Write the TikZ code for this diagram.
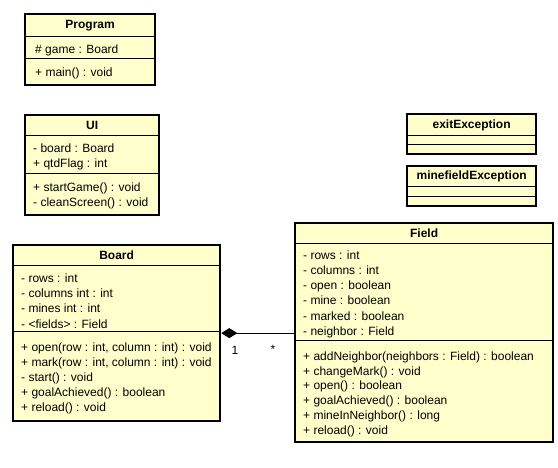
\documentclass[tikz,border=0pt]{standalone}
\usepackage{fontspec}
\setmainfont{Liberation Sans}
\usepackage{tikz}
\usetikzlibrary{arrows.meta}

\definecolor{classfill}{HTML}{FFFFCC}
\tikzset{
  classbox/.style={draw=black,line width=2.3pt,fill=classfill,anchor=north west,inner sep=0pt},
  sepline/.style={line width=1pt},
  classname/.style={font=\fontsize{12}{14}\selectfont\bfseries,inner sep=0pt},
  member/.style={font=\fontsize{12}{14}\selectfont,anchor=west,inner sep=0pt,text height=8.5pt,text depth=0pt},
  composition/.style={line width=1pt,{Diamond[length=16pt,width=10pt]}-},
  mult/.style={font=\fontsize{12}{14}\selectfont,inner sep=0pt}
}

\begin{document}
\begin{tikzpicture}[x=1pt,y=-1pt]
  \useasboundingbox (0,0) rectangle (558,468);

  % Program
  \node[classbox,minimum width=130pt,minimum height=71pt] (program) at (24,13) {};
  \draw[sepline] (program.west |- 0,37) -- (program.east |- 0,37);
  \draw[sepline] (program.west |- 0,59) -- (program.east |- 0,59);
  \node[classname] (programname) at (program.center |- 0,25.5) {Program};
  \node[member] (programattr) at (35,49) {\# game : Board};
  \node[member] (programop) at (35,72) {+ main() : void};

  % UI
  \node[classbox,minimum width=134pt,minimum height=100pt] (ui) at (24,114) {};
  \draw[sepline] (ui.west |- 0,136) -- (ui.east |- 0,136);
  \draw[sepline] (ui.west |- 0,174) -- (ui.east |- 0,174);
  \node[classname] (uiname) at (ui.center |- 0,125.5) {UI};
  \foreach \t [count=\i from 0] in {- board : Board,+ qtdFlag : int}
    \node[member] at (33,{148+15.5*\i}) {\t};
  \foreach \t [count=\i from 0] in {+ startGame() : void,- cleanScreen() : void}
    \node[member] at (33,{187+15*\i}) {\t};

  % exceptions
  \node[classbox,minimum width=129pt,minimum height=40pt] (exitexc) at (406,113) {};
  \draw[sepline] (exitexc.west |- 0,136) -- (exitexc.east |- 0,136);
  \draw[sepline] (exitexc.west |- 0,145) -- (exitexc.east |- 0,145);
  \node[classname] (exitname) at (exitexc.center |- 0,125) {exitException};

  \node[classbox,minimum width=129pt,minimum height=40pt] (mineexc) at (406,165) {};
  \draw[sepline] (mineexc.west |- 0,187) -- (mineexc.east |- 0,187);
  \draw[sepline] (mineexc.west |- 0,197) -- (mineexc.east |- 0,197);
  \node[classname] (minename) at (mineexc.center |- 0,176.5) {minefieldException};

  % Board
  \node[classbox,minimum width=207pt,minimum height=176pt] (board) at (12,244) {};
  \draw[sepline] (board.west |- 0,266) -- (board.east |- 0,266);
  \draw[sepline] (board.west |- 0,332) -- (board.east |- 0,332);
  \node[classname] (boardname) at (board.center |- 0,255.5) {Board};
  \foreach \t [count=\i from 0] in {- rows : int,- columns int : int,- mines int : int,- <fields> : Field}
    \node[member] at (21,{278+15.3*\i}) {\t};
  \foreach \t [count=\i from 0] in {{+ open(row : int, column : int) : void},{+ mark(row : int, column : int) : void},- start() : void,+ goalAchieved() : boolean,+ reload() : void}
    \node[member] at (21,{347+15*\i}) {\t};

  % Field
  \node[classbox,minimum width=258pt,minimum height=219pt] (field) at (294,222) {};
  \draw[sepline] (field.west |- 0,244) -- (field.east |- 0,244);
  \draw[sepline] (field.west |- 0,341) -- (field.east |- 0,341);
  \node[classname] (fieldname) at (field.center |- 0,233.5) {Field};
  \foreach \t [count=\i from 0] in {- rows : int,- columns : int,- open : boolean,- mine : boolean,- marked : boolean,- neighbor : Field}
    \node[member] at (303,{255+15.2*\i}) {\t};
  \foreach \t [count=\i from 0] in {+ addNeighbor(neighbors : Field) : boolean,+ changeMark() : void,+ open() : boolean,+ goalAchieved() : boolean,+ mineInNeighbor() : long,+ reload() : void}
    \node[member] at (303,{356+14.8*\i}) {\t};

  % composition
  \draw[composition] (board.east) -- (board.east -| field.west);
  \node[mult] (multone) at (235,350) {1};
  \node[mult] (multmany) at (273,349) {*};
\end{tikzpicture}
\end{document}
